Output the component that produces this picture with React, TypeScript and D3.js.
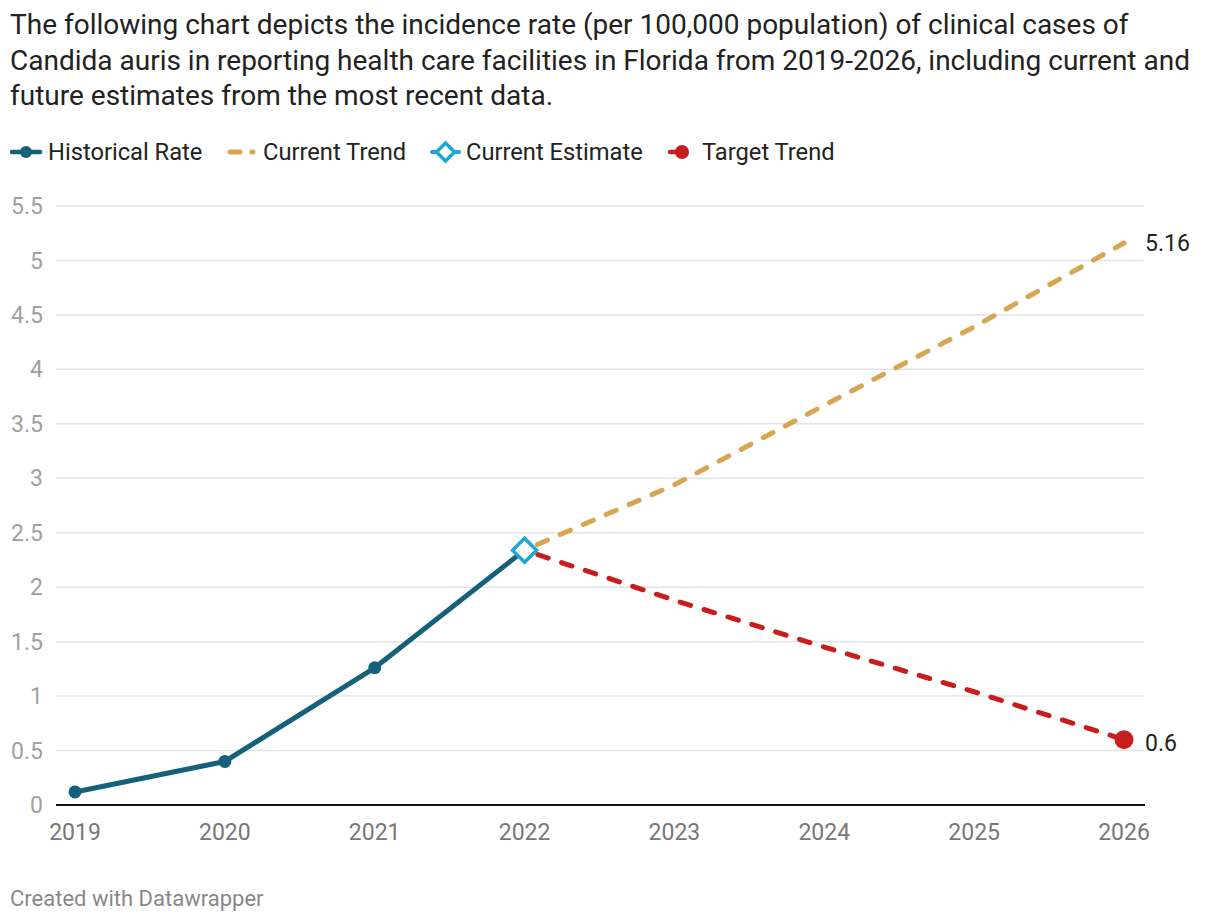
import React from "react";
import * as d3 from "d3";

const titleLines = [
  "The following chart depicts the incidence rate (per 100,000 population) of clinical cases of",
  "Candida auris in reporting health care facilities in Florida from 2019-2026, including current and",
  "future estimates from the most recent data.",
];
const years = [2019, 2020, 2021, 2022, 2023, 2024, 2025, 2026];
const historicalYears = [2019, 2020, 2021, 2022];
const historicalRate = [0.12, 0.4, 1.26, 2.34];
const trendYears = [2022, 2023, 2024, 2025, 2026];
const currentTrend = [2.34, 2.94, 3.67, 4.39, 5.16];
const targetTrend = [2.34, 1.88, 1.45, 1.04, 0.6];
const yTicks = [0, 0.5, 1, 1.5, 2, 2.5, 3, 3.5, 4, 4.5, 5, 5.5];
const legendItems = ["Historical Rate", "Current Trend", "Current Estimate", "Target Trend"];

const C_HIST = "#15607a";
const C_CUR = "#d8a552";
const C_EST = "#1ea7d3";
const C_TGT = "#c71e1d";
const FONT = "Roboto, sans-serif";

export default function App() {
  const W = 1220, H = 922;
  const x = d3.scaleLinear().domain([2019, 2026]).range([75, 1124]);
  const y = d3.scaleLinear().domain([0, 5.5]).range([805, 206]);
  const line = d3.line<[number, number]>().x(d => x(d[0])).y(d => y(d[1]));
  const hist = historicalYears.map((yr, i) => [yr, historicalRate[i]] as [number, number]);
  const cur = trendYears.map((yr, i) => [yr, currentTrend[i]] as [number, number]);
  const tgt = trendYears.map((yr, i) => [yr, targetTrend[i]] as [number, number]);
  const last = trendYears.length - 1;
  const ex = x(2022), ey = y(historicalRate[3]);
  const diamond = (cx: number, cy: number, r: number) => `M${cx},${cy - r}L${cx + r},${cy}L${cx},${cy + r}L${cx - r},${cy}Z`;
  const legendX = [48, 263, 466, 702];
  const ly = 152;

  return (
    <svg width={W} height={H} style={{ position: "absolute", left: 0, top: 0, fontFamily: FONT }}>
      <rect width={W} height={H} fill="#fff" />
      {titleLines.map((t, i) => (
        <text key={i} x={10} y={34 + i * 35.5} fontSize={28} fill="#222">{t}</text>
      ))}
      {/* legend */}
      <g>
        <line x1={12} x2={40} y1={ly} y2={ly} stroke={C_HIST} strokeWidth={4.5} strokeLinecap="round" />
        <circle cx={26} cy={ly} r={6} fill={C_HIST} />
        <line x1={230} x2={240} y1={ly} y2={ly} stroke={C_CUR} strokeWidth={5} strokeLinecap="round" />
        <line x1={252} x2={253} y1={ly} y2={ly} stroke={C_CUR} strokeWidth={5} strokeLinecap="round" />
        <line x1={432} x2={459} y1={ly} y2={ly} stroke={C_EST} strokeWidth={4} strokeLinecap="round" />
        <path d={diamond(445.5, ly, 9)} fill="#fff" stroke={C_EST} strokeWidth={3.5} />
        <line x1={670} x2={682} y1={ly} y2={ly} stroke={C_TGT} strokeWidth={4.5} strokeLinecap="round" />
        <circle cx={682} cy={ly} r={7} fill={C_TGT} />
        {legendItems.map((t, i) => (
          <text key={t} x={legendX[i]} y={ly} dy="0.35em" fontSize={23.7} fill="#222">{t}</text>
        ))}
      </g>
      {/* grid */}
      {yTicks.map(t => (
        <g key={t}>
          {t !== 0 && <line x1={56} x2={1144} y1={y(t)} y2={y(t)} stroke="#e3e3e3" strokeWidth={1.5} />}
          <text x={43} y={y(t)} dy="0.35em" textAnchor="end" fontSize={23} fill="#a0a0a0">{t}</text>
        </g>
      ))}
      <line x1={56} x2={1145} y1={y(0)} y2={y(0)} stroke="#111" strokeWidth={2} />
      {years.map(yr => (
        <text key={yr} x={x(yr)} y={832} dy="0.35em" textAnchor="middle" fontSize={23} fill="#777">{yr}</text>
      ))}
      {/* series */}
      <path d={line(cur) || ""} fill="none" stroke={C_CUR} strokeWidth={5} strokeDasharray="11 14" strokeLinecap="round" strokeDashoffset={-14} />
      <path d={line(tgt) || ""} fill="none" stroke={C_TGT} strokeWidth={5} strokeDasharray="11 14" strokeLinecap="round" strokeDashoffset={-14} />
      <path d={line(hist) || ""} fill="none" stroke={C_HIST} strokeWidth={5} strokeLinejoin="round" />
      {hist.slice(0, 3).map(p => (
        <circle key={p[0]} cx={x(p[0])} cy={y(p[1])} r={6.5} fill={C_HIST} />
      ))}
      <path d={diamond(ex, ey, 12)} fill="#fff" stroke={C_EST} strokeWidth={3.5} />
      <circle cx={x(trendYears[last])} cy={y(targetTrend[last])} r={9.5} fill={C_TGT} />
      <text x={1145} y={y(currentTrend[last])} dy="0.35em" fontSize={23} fill="#222">{currentTrend[last]}</text>
      <text x={1145} y={y(targetTrend[last]) + 3} dy="0.35em" fontSize={23} fill="#222">{targetTrend[last]}</text>
      <text x={10} y={898} dy="0.35em" fontSize={22} fill="#888">Created with Datawrapper</text>
    </svg>
  );
}
